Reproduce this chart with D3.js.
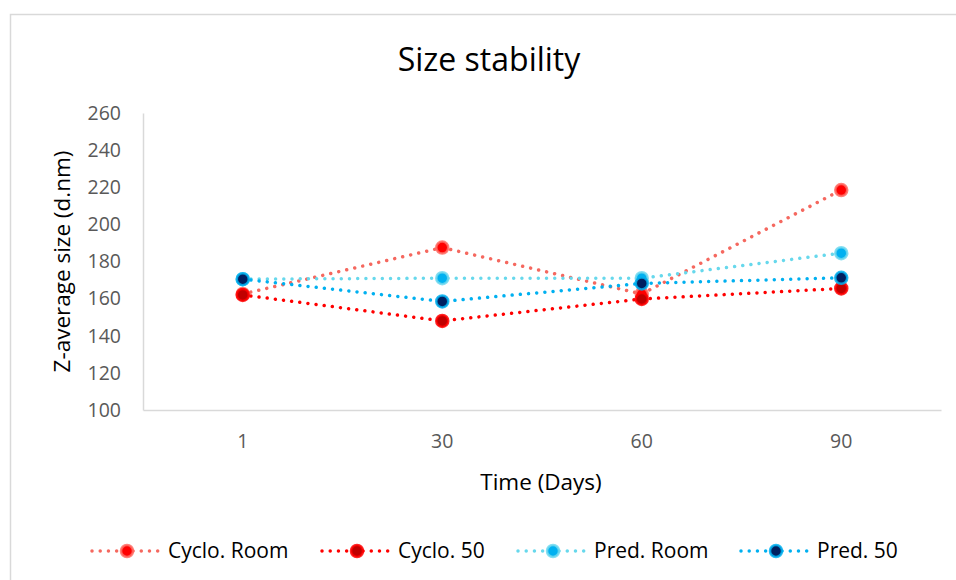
<!DOCTYPE html>
<html>
<head>
<meta charset="utf-8">
<script src="https://cdn.jsdelivr.net/npm/d3@7"></script>
<style>
  body { margin: 0; background: #fff; }
  text { font-family: "Open Sans", sans-serif; }
</style>
</head>
<body>
<div id="chart"></div>
<script>
(function(){
	"use strict";

	// data
	var days = ["1", "30", "60", "90"];
	var cycloRoom = [162.5, 187.5, 162.5, 218.5];
	var cyclo50 = [162, 148, 159.8, 165.5];
	var predRoom = [170.5, 171, 171, 184.5];
	var pred50 = [170.5, 158.5, 168.2, 171.2];
	var yTicks = [100, 120, 140, 160, 180, 200, 220, 240, 260];

	var series = [
		{ name: "Cyclo. Room", values: cycloRoom, line: "#F5685F", fill: "#FF0000", ring: "#FF6B63" },
		{ name: "Cyclo. 50", values: cyclo50, line: "#FF0000", fill: "#C00000", ring: "#FF0000" },
		{ name: "Pred. Room", values: predRoom, line: "#67D8EC", fill: "#00B0F0", ring: "#6FD8EE" },
		{ name: "Pred. 50", values: pred50, line: "#00B0F0", fill: "#002060", ring: "#00B0F0" }
	];

	var width = 956, height = 580;
	var plot = { left: 143, right: 941, top: 113, bottom: 410 };

	var svg = d3.select("#chart").append("svg")
		.attr("width", width)
		.attr("height", height);

	// outer chart frame (runs off the right/bottom edge)
	svg.append("rect")
		.attr("x", 10.5).attr("y", 14.5)
		.attr("width", 970).attr("height", 600)
		.attr("fill", "#fff")
		.attr("stroke", "#D9D9D9")
		.attr("stroke-width", 1.5);

	var xScale = d3.scaleBand()
		.domain(days)
		.range([plot.left, plot.right]);

	var yScale = d3.scaleLinear()
		.domain([100, 260])
		.range([plot.bottom, plot.top]);

	var xAxis = d3.axisBottom(xScale).tickSize(0).tickPadding(24);
	var yAxis = d3.axisLeft(yScale).tickValues(yTicks).tickSize(0).tickPadding(22);

	var gx = svg.append("g")
		.attr("transform", "translate(0," + plot.bottom + ")")
		.call(xAxis);
	var gy = svg.append("g")
		.attr("transform", "translate(" + plot.left + ",0)")
		.call(yAxis);

	[gx, gy].forEach(function(g){
		g.select(".domain").attr("stroke", "#D9D9D9").attr("stroke-width", 1.5);
		g.selectAll("text")
			.attr("fill", "#595959")
			.style("font-size", "19.5px")
			.style("font-family", "'Open Sans', sans-serif");
	});

	// titles
	svg.append("text")
		.attr("x", 489).attr("y", 71)
		.attr("text-anchor", "middle")
		.attr("fill", "#000")
		.style("font-size", "32px")
		.text("Size stability");

	svg.append("text")
		.attr("text-anchor", "middle")
		.attr("transform", "translate(70," + ((plot.top + plot.bottom) / 2) + ")rotate(-90)")
		.attr("fill", "#000")
		.style("font-size", "22.5px")
		.text("Z-average size (d.nm)");

	svg.append("text")
		.attr("x", 541).attr("y", 490)
		.attr("text-anchor", "middle")
		.attr("fill", "#000")
		.style("font-size", "22.5px")
		.text("Time (Days)");

	var line = d3.line()
		.x(function(d, i){ return xScale(days[i]) + xScale.bandwidth() / 2; })
		.y(function(d){ return yScale(d); });

	// lines first, then markers per series in legend order
	series.forEach(function(s){
		var g = svg.append("g");
		g.append("path")
			.attr("d", line(s.values))
			.attr("fill", "none")
			.attr("stroke", s.line)
			.attr("stroke-width", 3.5)
			.attr("stroke-linecap", "round")
			.attr("stroke-dasharray", "0.01 8.2");

		g.selectAll("circle")
			.data(s.values)
			.enter()
			.append("circle")
			.attr("cx", function(d, i){ return xScale(days[i]) + xScale.bandwidth() / 2; })
			.attr("cy", function(d){ return yScale(d); })
			.attr("r", 6)
			.attr("fill", s.fill)
			.attr("stroke", s.ring)
			.attr("stroke-opacity", 0.85)
			.attr("stroke-width", 2.5);
	});

	// legend
	var legendX = [92, 322, 518, 741];
	var legendY = 551;
	var legend = svg.append("g");
	series.forEach(function(s, i){
		var g = legend.append("g").attr("transform", "translate(" + legendX[i] + "," + legendY + ")");
		g.append("line")
			.attr("x1", 0).attr("x2", 70)
			.attr("stroke", s.line)
			.attr("stroke-width", 3.5)
			.attr("stroke-linecap", "round")
			.attr("stroke-dasharray", "0.01 8.2");
		g.append("circle")
			.attr("cx", 35).attr("r", 6)
			.attr("fill", s.fill)
			.attr("stroke", s.ring)
			.attr("stroke-opacity", 0.85)
			.attr("stroke-width", 2.5);
		g.append("text")
			.attr("x", 76).attr("y", 7)
			.attr("fill", "#000")
			.style("font-size", "21px")
			.text(s.name);
	});

})();
</script>
</body>
</html>
